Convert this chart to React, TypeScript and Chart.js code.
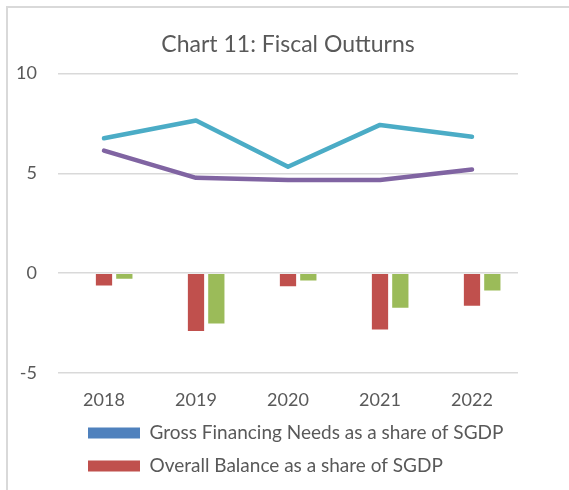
import React, { useEffect, useRef } from "react";
import { Chart, registerables } from "chart.js";

Chart.register(...registerables);

const categories = ["2018", "2019", "2020", "2021", "2022"];
const seriesNames = [
  "Gross Financing Needs as a share of SGDP",
  "Overall Balance as a share of SGDP",
  "Primary Balance as a share of SGDP",
  "Interest Payments as a share of SGDP",
  "Total Debt Service as a share of SGDP",
];
const grossFinancingNeedsBars: (number | null)[] = [null, null, null, null, null];
const overallBalance = [-0.62, -2.89, -0.65, -2.82, -1.63];
const primaryBalance = [-0.28, -2.52, -0.37, -1.73, -0.87];
const purpleLine = [6.14, 4.78, 4.67, 4.67, 5.2];
const cyanLine = [6.76, 7.65, 5.33, 7.43, 6.84];
const yMin = -5;
const yMax = 10;
const yStep = 5;

const FONT = "Lato, 'Open Sans', sans-serif";
const TEXT = "#595959";

const legendShift = {
  id: "legendShift",
  afterLayout(chart: any) {
    if (chart.legend) {
      chart.legend.left = chart.chartArea.left + 16;
      chart.legend.top = chart.legend.top - 2.5;
    }
  },
};

export default function App() {
  const ref = useRef<HTMLCanvasElement | null>(null);

  useEffect(() => {
    if (!ref.current) return;
    const barCommon = {
      type: "bar",
      categoryPercentage: 0.663,
      barPercentage: 0.8,
    };
    const lineCommon = {
      type: "line",
      borderWidth: 4.5,
      borderCapStyle: "round",
      borderJoinStyle: "round",
      pointRadius: 0,
      tension: 0,
    };
    const chart = new Chart(ref.current, {
      type: "bar",
      data: {
        labels: categories,
        datasets: [
          { ...barCommon, label: seriesNames[0], data: grossFinancingNeedsBars, backgroundColor: "#4F81BD" },
          { ...barCommon, label: seriesNames[1], data: overallBalance, backgroundColor: "#C0504D" },
          { ...barCommon, label: seriesNames[2], data: primaryBalance, backgroundColor: "#9BBB59" },
          {
            ...lineCommon,
            label: seriesNames[3],
            data: purpleLine,
            borderColor: "#8064A2",
            backgroundColor: "#8064A2",
          },
          {
            ...lineCommon,
            label: seriesNames[4],
            data: cyanLine,
            borderColor: "#4BACC6",
            backgroundColor: "#4BACC6",
          },
        ] as any,
      },
      options: {
        responsive: false,
        animation: false,
        layout: { padding: { left: 0, right: 51, top: 0, bottom: 0 } },
        plugins: {
          title: {
            display: true,
            text: "Chart 11: Fiscal Outturns",
            color: TEXT,
            fullSize: false,
            font: { family: FONT, size: 23, weight: "normal" },
            padding: { top: 23, bottom: 15 },
          },
          legend: {
            display: true,
            position: "bottom",
            align: "start",
            fullSize: false,
            labels: {
              color: TEXT,
              font: { family: FONT, size: 19 },
              boxWidth: 52,
              boxHeight: 11,
              padding: 14,
            },
          },
          tooltip: { enabled: false },
        },
        scales: {
          x: {
            type: "category",
            offset: true,
            grid: { display: false, drawTicks: false },
            border: { display: false },
            ticks: { color: TEXT, font: { family: FONT, size: 18 }, padding: 16, maxRotation: 0 },
            afterFit: (s: any) => {
              s.height = 39;
            },
          },
          y: {
            type: "linear",
            min: yMin,
            max: yMax,
            grid: { color: "#d9d9d9", lineWidth: 1.5, drawTicks: false },
            border: { display: false },
            ticks: {
              stepSize: yStep,
              color: TEXT,
              font: { family: FONT, size: 18 },
              padding: 21,
            },
            afterFit: (s: any) => {
              s.width = 50;
            },
          },
        },
      } as any,
      plugins: [legendShift],
    });
    return () => chart.destroy();
  }, []);

  return (
    <div
      style={{
        position: "absolute",
        left: 6,
        top: 6,
        width: 563,
        height: 484,
        boxSizing: "border-box",
        borderLeft: "2px solid #d9d9d9",
        borderTop: "2px solid #d9d9d9",
        overflow: "hidden",
        background: "#fff",
      }}
    >
      <canvas ref={ref} width={561} height={579} style={{ display: "block" }} />
    </div>
  );
}
